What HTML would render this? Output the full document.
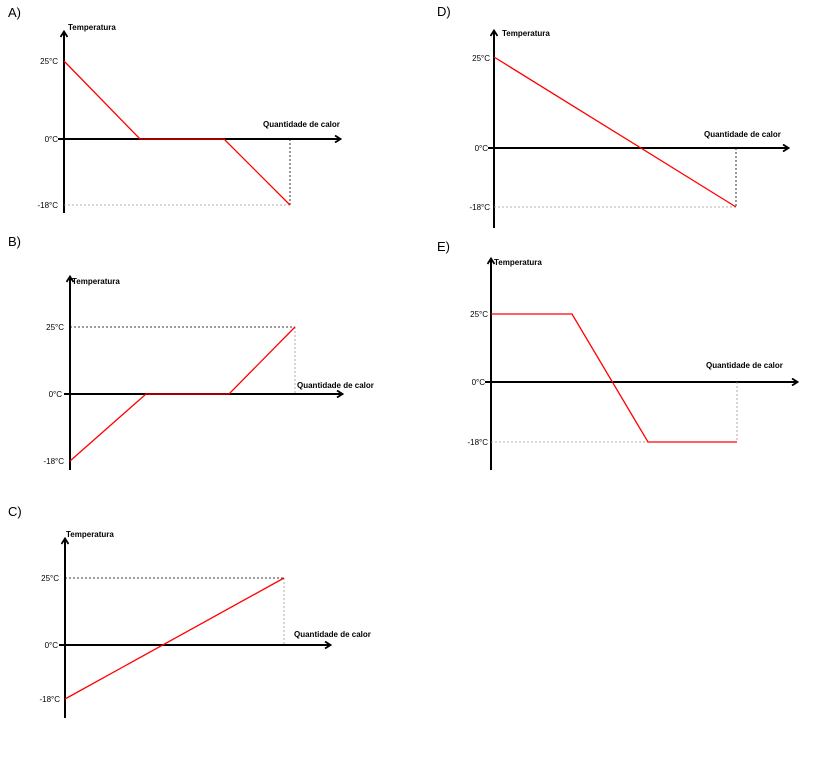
<!DOCTYPE html>
<html><head><meta charset="utf-8"><style>
html,body{margin:0;padding:0;background:#fff;}
svg{display:block;}
.t{font-family:"Liberation Sans",sans-serif;font-size:8px;font-weight:bold;fill:#000;}
.k{font-family:"Liberation Sans",sans-serif;font-size:8px;fill:#000;}
.L{font-family:"Liberation Sans",sans-serif;font-size:13px;fill:#000;}
.ax{stroke:#000;stroke-width:2;fill:none;}
.r{stroke:#f00;stroke-width:1.3;fill:none;}
.d{stroke:#000;stroke-width:0.8;stroke-dasharray:2,2;fill:none;}
.g{stroke:#999;stroke-width:0.8;stroke-dasharray:2,2;fill:none;}
</style></head><body>
<svg width="817" height="757" viewBox="0 0 817 757">
<defs><marker id="a" markerWidth="8" markerHeight="8" refX="6" refY="4" orient="auto" markerUnits="userSpaceOnUse"><path d="M1,0.5 L6.5,4 L1,7.5" stroke="#000" stroke-width="1.8" fill="none"/></marker></defs>

<!-- A -->
<text class="L" x="8" y="17">A)</text>
<line class="ax" x1="64" y1="213" x2="64" y2="32" marker-end="url(#a)"/>
<line class="ax" x1="58" y1="139" x2="340" y2="139" marker-end="url(#a)"/>
<line class="g" x1="64" y1="205" x2="290" y2="205"/>
<line class="d" x1="290" y1="139" x2="290" y2="205"/>
<polyline class="r" points="64,61 140,139 224,139 290,205"/>
<text class="t" x="68" y="30">Temperatura</text>
<text class="t" x="263" y="127">Quantidade de calor</text>
<text class="k" x="58" y="64" text-anchor="end">25°C</text>
<text class="k" x="58" y="142" text-anchor="end">0°C</text>
<text class="k" x="58" y="208" text-anchor="end">-18°C</text>

<!-- D -->
<text class="L" x="437" y="16">D)</text>
<line class="ax" x1="494" y1="228" x2="494" y2="31" marker-end="url(#a)"/>
<line class="ax" x1="488" y1="148" x2="788" y2="148" marker-end="url(#a)"/>
<line class="g" x1="494" y1="207" x2="736" y2="207"/>
<line class="d" x1="736" y1="148" x2="736" y2="207"/>
<line class="r" x1="494" y1="57" x2="736" y2="207"/>
<text class="t" x="502" y="36">Temperatura</text>
<text class="t" x="704" y="137">Quantidade de calor</text>
<text class="k" x="490" y="61" text-anchor="end">25°C</text>
<text class="k" x="488" y="151" text-anchor="end">0°C</text>
<text class="k" x="490" y="210" text-anchor="end">-18°C</text>

<!-- B -->
<text class="L" x="8" y="246">B)</text>
<line class="ax" x1="70" y1="470" x2="70" y2="277" marker-end="url(#a)"/>
<line class="ax" x1="64" y1="394" x2="342" y2="394" marker-end="url(#a)"/>
<line class="d" x1="70" y1="327" x2="295" y2="327"/>
<line class="g" x1="295" y1="327" x2="295" y2="394"/>
<polyline class="r" points="70,461 146,394 229,394 295,327"/>
<text class="t" x="72" y="284">Temperatura</text>
<text class="t" x="297" y="388">Quantidade de calor</text>
<text class="k" x="64" y="330" text-anchor="end">25°C</text>
<text class="k" x="62" y="397" text-anchor="end">0°C</text>
<text class="k" x="64" y="464" text-anchor="end">-18°C</text>

<!-- C -->
<text class="L" x="8" y="516">C)</text>
<line class="ax" x1="65" y1="718" x2="65" y2="539" marker-end="url(#a)"/>
<line class="ax" x1="59" y1="645" x2="330" y2="645" marker-end="url(#a)"/>
<line class="d" x1="65" y1="578" x2="284" y2="578"/>
<line class="g" x1="284" y1="578" x2="284" y2="645"/>
<line class="r" x1="65" y1="699" x2="284" y2="578"/>
<text class="t" x="66" y="537">Temperatura</text>
<text class="t" x="294" y="637">Quantidade de calor</text>
<text class="k" x="59" y="581" text-anchor="end">25°C</text>
<text class="k" x="58" y="648" text-anchor="end">0°C</text>
<text class="k" x="60" y="702" text-anchor="end">-18°C</text>

<!-- E -->
<text class="L" x="437" y="251">E)</text>
<line class="ax" x1="491" y1="470" x2="491" y2="259" marker-end="url(#a)"/>
<line class="ax" x1="485" y1="382" x2="797" y2="382" marker-end="url(#a)"/>
<line class="g" x1="491" y1="442" x2="648" y2="442"/>
<line class="g" x1="737" y1="382" x2="737" y2="442"/>
<polyline class="r" points="491,314 572,314 648,442 737,442"/>
<text class="t" x="494" y="265">Temperatura</text>
<text class="t" x="706" y="368">Quantidade de calor</text>
<text class="k" x="488" y="317" text-anchor="end">25°C</text>
<text class="k" x="485" y="385" text-anchor="end">0°C</text>
<text class="k" x="488" y="445" text-anchor="end">-18°C</text>
</svg>
</body></html>
